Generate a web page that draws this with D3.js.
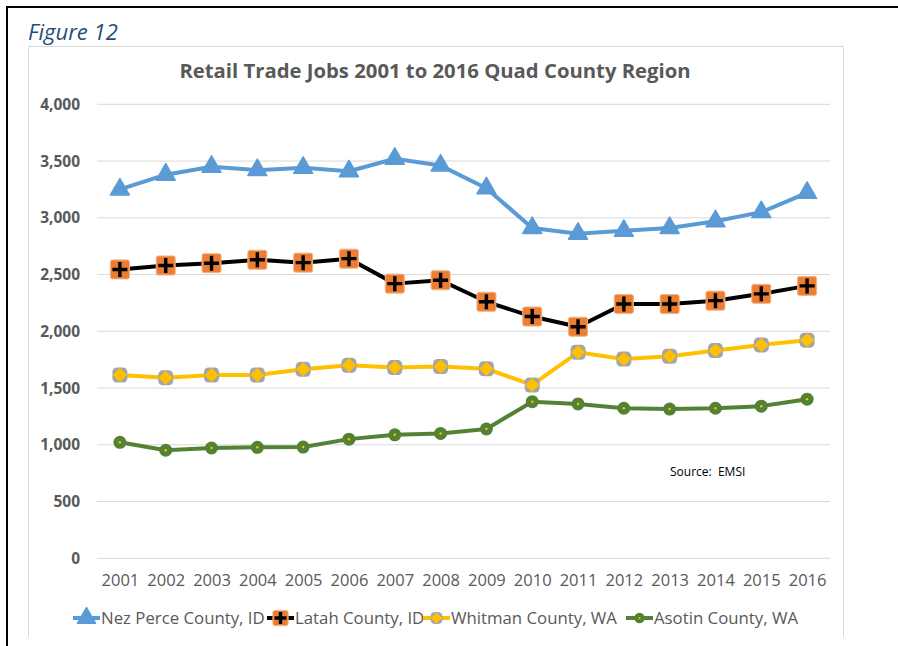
<!DOCTYPE html>
<html>
<head>
<meta charset="utf-8">
<script src="https://cdn.jsdelivr.net/npm/d3@7"></script>
<style>
  body { margin: 0; background: #fff; }
  svg { display: block; font-family: "Open Sans", "Liberation Sans", sans-serif; }
</style>
</head>
<body>
<svg id="chart"></svg>
<script>
const years = ["2001","2002","2003","2004","2005","2006","2007","2008",
               "2009","2010","2011","2012","2013","2014","2015","2016"];
const nezPerce = [3250, 3380, 3450, 3420, 3440, 3410, 3520, 3460, 3260, 2910, 2860, 2885, 2910, 2970, 3050, 3220];
const latah    = [2545, 2580, 2600, 2630, 2605, 2640, 2420, 2450, 2260, 2130, 2040, 2240, 2240, 2270, 2330, 2400];
const whitman  = [1615, 1590, 1615, 1615, 1665, 1700, 1680, 1690, 1670, 1527, 1815, 1755, 1780, 1830, 1880, 1922];
const asotin   = [1022, 952, 972, 978, 980, 1050, 1088, 1100, 1140, 1380, 1360, 1322, 1315, 1322, 1340, 1402];
const yTicks = [0, 500, 1000, 1500, 2000, 2500, 3000, 3500, 4000];
const seriesNames = ["Nez Perce County, ID", "Latah County, ID", "Whitman County, WA", "Asotin County, WA"];

const series = [
  {name: seriesNames[0], values: nezPerce, line: "#5b9bd5", marker: "triangle"},
  {name: seriesNames[1], values: latah,    line: "#000000", marker: "plus"},
  {name: seriesNames[2], values: whitman,  line: "#ffc000", marker: "diamond"},
  {name: seriesNames[3], values: asotin,   line: "#548235", marker: "circle"}
];

let w = 898, h = 646;
let svg = d3.select("#chart").attr("width", w).attr("height", h);

// outer frame
svg.append("path").attr("d", "M7,646 L7,7 L898,7")
   .attr("fill", "none").attr("stroke", "#000").attr("stroke-width", 2);
// chart area border
svg.append("path").attr("d", "M28.5,637 L28.5,46.5 L843.5,46.5 L843.5,637")
   .attr("fill", "none").attr("stroke", "#d9d9d9").attr("stroke-width", 1);

svg.append("text").attr("x", 28).attr("y", 40)
   .attr("font-size", 22).attr("font-style", "italic").attr("fill", "#1f4e79")
   .text("Figure 12");

svg.append("text").attr("x", 435).attr("y", 78).attr("text-anchor", "middle")
   .attr("font-size", 20.3).attr("font-weight", "bold").attr("fill", "#595959")
   .text("Retail Trade Jobs 2001 to 2016 Quad County Region");

let x = d3.scalePoint().domain(years).range([97, 830]).padding(0.5);
let y = d3.scaleLinear().domain([0, 4000]).range([558.3, 104.3]);

let grid = svg.append("g");
grid.selectAll("line").data(yTicks).enter().append("line")
    .attr("x1", 97).attr("x2", 830)
    .attr("y1", d => y(d)).attr("y2", d => y(d))
    .attr("stroke", "#d9d9d9").attr("stroke-width", 1);

let yAxis = svg.append("g").attr("transform", "translate(80,0)")
    .call(d3.axisLeft(y).tickValues(yTicks).tickSize(0).tickPadding(0).tickFormat(d3.format(",")));
yAxis.select(".domain").remove();
yAxis.selectAll("text").attr("font-size", 15.5).attr("font-weight", "bold")
     .attr("fill", "#595959").attr("font-family", "'Open Sans', sans-serif");

let xAxis = svg.append("g").attr("transform", "translate(0,574)")
    .call(d3.axisBottom(x).tickSize(0).tickPadding(0));
xAxis.select(".domain").remove();
xAxis.selectAll("text").attr("font-size", 16.5).attr("fill", "#595959")
     .attr("font-family", "'Open Sans', sans-serif");

function drawMarker(g, type, s) {
  if (type === "triangle") {
    g.append("path").attr("d", d3.symbol().type(d3.symbolTriangle).size(155 * s)())
     .attr("fill", "#5b9bd5").attr("stroke", "#5b9bd5").attr("stroke-width", 1.5)
     .attr("stroke-linejoin", "round");
  } else if (type === "plus") {
    let r = 9.5 * s;
    g.append("rect").attr("x", -r).attr("y", -r).attr("width", 2 * r).attr("height", 2 * r)
     .attr("rx", 2).attr("fill", "#ed7d31").attr("stroke", "#f4b183").attr("stroke-width", 1);
    let p = 7.5 * s;
    g.append("path").attr("d", `M${-p},0 L${p},0 M0,${-p} L0,${p}`)
     .attr("stroke", "#000").attr("stroke-width", 3.4);
  } else if (type === "diamond") {
    let r = 7.5 * s;
    g.append("rect").attr("x", -r).attr("y", -r).attr("width", 2 * r).attr("height", 2 * r)
     .attr("rx", 4.5).attr("fill", "#a5a5a5");
    let d = 7 * s;
    g.append("path").attr("d", `M0,${-d} L${d},0 L0,${d} L${-d},0 Z`).attr("fill", "#ffc000");
  } else {
    g.append("circle").attr("r", 6.5 * s).attr("fill", "#548235");
    g.append("circle").attr("r", 1.2 * s).attr("fill", "#ffc000");
  }
}

let line = d3.line().x((d, i) => x(years[i])).y(d => y(d));

series.forEach(s => {
  let g = svg.append("g");
  g.append("path").datum(s.values).attr("d", line)
   .attr("fill", "none").attr("stroke", s.line).attr("stroke-width", 4)
   .attr("stroke-linejoin", "round");
  g.selectAll("g.m").data(s.values).enter().append("g").attr("class", "m")
   .attr("transform", (d, i) => `translate(${x(years[i])},${y(d)})`)
   .each(function () { drawMarker(d3.select(this), s.marker, 1); });
});

svg.append("text").attr("x", 670).attr("y", 476).attr("font-size", 12).attr("fill", "#000")
   .style("white-space", "pre")
   .text("Source:  EMSI");

// legend
let legendX = [73, 267, 423, 626];
let legend = svg.append("g").attr("transform", "translate(0,618)");
series.forEach((s, i) => {
  let g = legend.append("g").attr("transform", `translate(${legendX[i]},0)`);
  g.append("line").attr("x1", 0).attr("x2", 27).attr("y1", 0).attr("y2", 0)
   .attr("stroke", s.line).attr("stroke-width", 4);
  let m = g.append("g").attr("transform", "translate(13.5,0)");
  drawMarker(m, s.marker, i === 0 ? 0.9 : 0.8);
  g.append("text").attr("x", 28).attr("y", 6).attr("font-size", 16.8).attr("fill", "#595959")
   .text(s.name);
});
</script>
</body>
</html>
